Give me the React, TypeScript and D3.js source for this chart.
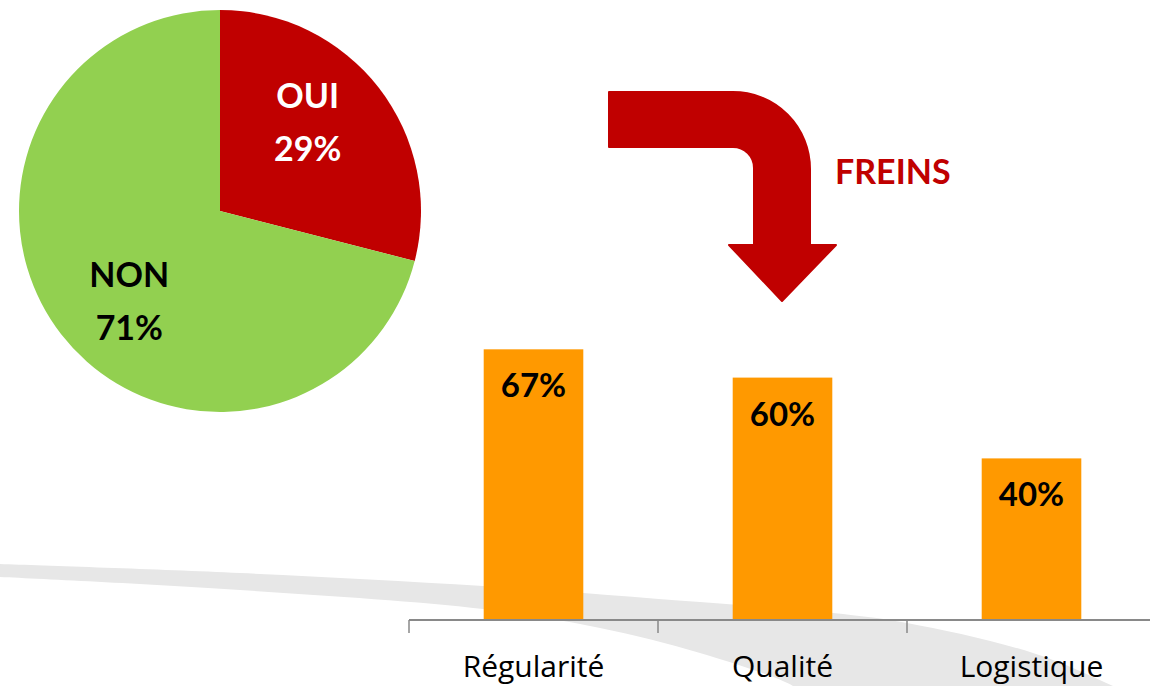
import { useEffect } from "react";
import * as d3 from "d3";

// pie: "do you ..." yes / no
const pieLabels = ["OUI", "NON"];
const pieValues = [29, 71];
const pieColors = ["#C00000", "#92D050"];
const pieTextColors = ["#ffffff", "#000000"];

// bars: the brakes ("freins")
const barCategories = ["Régularité", "Qualité", "Logistique"];
const barValues = [67, 60, 40];

// background swoosh outline (top edge left->right, then bottom edge right->left)
const swooshPoints: [number, number][] = [
  [-30, 563], [0, 564], [240, 573], [483, 586], [700, 602], [833, 613],
  [907, 623], [1033, 653], [1113, 686], [1140, 700],
  [1000, 730], [810, 700], [793, 686], [700, 653], [600, 628],
  [483, 609], [240, 590], [0, 577], [-30, 576],
];

const W = 1150;
const H = 686;
const boldFont = "Lato, 'Open Sans', sans-serif";
const regFont = "'Open Sans', Lato, sans-serif";

export default function App() {
  useEffect(() => {
    document.body.style.margin = "0";
  }, []);

  // pie
  const cx = 220;
  const cy = 211;
  const r = 201;
  const pie = d3.pie<number>().sort(null).value((d) => d);
  const arcs = pie(pieValues);
  const arc = d3.arc<d3.PieArcDatum<number>>().innerRadius(0).outerRadius(r);
  const labelArc = d3.arc<d3.PieArcDatum<number>>().innerRadius(130).outerRadius(130);
  const labelNudge: [number, number][] = [[-15, -8], [12, 11]];

  // bars
  const x = d3
    .scaleBand<string>()
    .domain(barCategories)
    .range([409, 1156])
    .paddingInner(0.6)
    .paddingOuter(0.3);
  const y = d3.scaleLinear().domain([0, 100]).range([620, 216]);
  const gap = (x.step() - x.bandwidth()) / 2;
  const tickXs = barCategories.map((c) => (x(c) as number) - gap);

  const swoosh = d3.line().curve(d3.curveCatmullRom)(swooshPoints) + "Z";

  // bent arrow
  const ax0 = 609, aTop = 92, t = 55, ri = 21, ro = ri + t + 1;
  const sx1 = 754, sx2 = 810, headY = 245, tipY = 301;
  const arrow =
    `M${ax0},${aTop} H${sx2 - ro} A${ro},${ro} 0 0 1 ${sx2},${aTop + ro} ` +
    `V${headY} H836 L${(sx1 + sx2) / 2},${tipY} L729,${headY} H${sx1} ` +
    `V${aTop + t + ri} A${ri},${ri} 0 0 0 ${sx1 - ri},${aTop + t} H${ax0} Z`;

  return (
    <svg width={W} height={H} style={{ display: "block", background: "#fff" }}>
      <path d={swoosh} fill="#e7e7e7" />

      <g transform={`translate(${cx},${cy})`}>
        {arcs.map((a, i) => (
          <path key={i} d={arc(a) as string} fill={pieColors[i]} />
        ))}
        {arcs.map((a, i) => {
          const [lx, ly] = labelArc.centroid(a);
          const px = lx + labelNudge[i][0];
          const py = ly + labelNudge[i][1];
          return (
            <text
              key={i}
              textAnchor="middle"
              fontFamily={boldFont}
              fontWeight="bold"
              fontSize={34}
              fill={pieTextColors[i]}
            >
              <tspan x={px} y={py - 15}>{pieLabels[i]}</tspan>
              <tspan x={px} y={py + 38}>{pieValues[i]}%</tspan>
            </text>
          );
        })}
      </g>

      <path d={arrow} fill="#C00000" strokeLinejoin="round" stroke="#C00000" strokeWidth={2} />
      <text
        x={835}
        y={184}
        fontFamily={boldFont}
        fontWeight="bold"
        fontSize={34}
        fill="#C00000"
      >
        FREINS
      </text>

      {barCategories.map((c, i) => (
        <g key={c}>
          <rect
            x={x(c)}
            y={y(barValues[i])}
            width={x.bandwidth()}
            height={y(0) - y(barValues[i])}
            fill="#FF9900"
          />
          <text
            x={(x(c) as number) + x.bandwidth() / 2}
            y={y(barValues[i]) + 48}
            textAnchor="middle"
            fontFamily={boldFont}
            fontWeight="bold"
            fontSize={33}
            fill="#000"
          >
            {barValues[i]}%
          </text>
          <text
            x={(x(c) as number) + x.bandwidth() / 2}
            y={677}
            textAnchor="middle"
            fontFamily={regFont}
            fontSize={30}
            fill="#000"
          >
            {c}
          </text>
        </g>
      ))}

      <line x1={409} x2={W} y1={y(0)} y2={y(0)} stroke="#898989" strokeWidth={2} />
      {tickXs.map((tx, i) => (
        <line key={i} x1={tx} x2={tx} y1={y(0)} y2={y(0) + 13} stroke="#898989" strokeWidth={1.5} />
      ))}
    </svg>
  );
}
